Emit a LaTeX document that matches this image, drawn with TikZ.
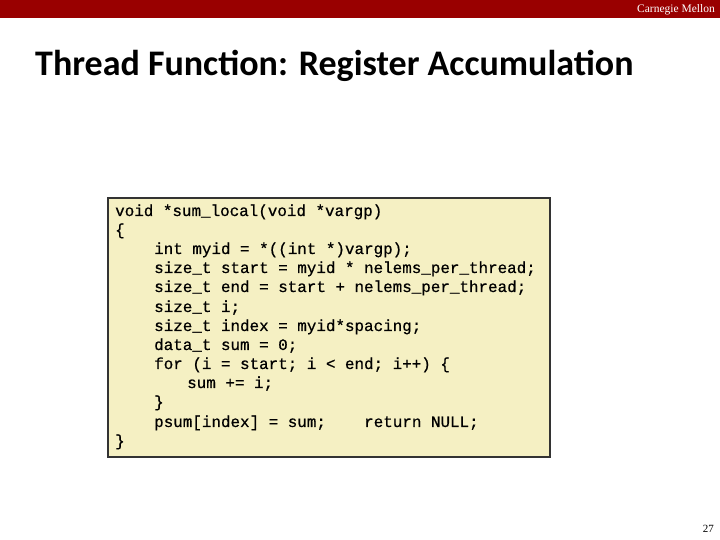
\documentclass[tikz,border=0pt]{standalone}
\usepackage{fontspec}
\setmainfont{Liberation Serif}
\newfontfamily\titlefont{Carlito}
\newfontfamily\codefont[FakeBold=0.6]{Liberation Mono}
\definecolor{cmured}{HTML}{990000}
\definecolor{codebg}{HTML}{F5F0C3}
\begin{document}
\begin{tikzpicture}[x=1pt,y=1pt,
  codeline/.style={anchor=base west,inner sep=0pt,font=\codefont\fontsize{15.9}{19}\selectfont}]
\useasboundingbox (0,0) rectangle (720,540);
\fill[white] (0,0) rectangle (720,540);
\fill[cmured] (0,522) rectangle (720,540);
\node[anchor=base east,inner sep=0pt,text=white,font=\fontsize{11.5}{12}\selectfont] (cmu) at (715,527) {Carnegie Mellon};
\node[anchor=base west,inner sep=0pt,font=\titlefont\bfseries\fontsize{36}{40}\selectfont] (title) at (35,464) {Thread Function: Register Accumulation};
\draw[fill=codebg,draw=black!80,line width=1.5pt] (108,83) rectangle (550,342);
\foreach \t/\x/\py [count=\i] in {
 {void *sum\_local(void *vargp)}/115/216,
 {\{}/115/235,
 {int myid = *((int *)vargp);}/154/254,
 {size\_t start = myid * nelems\_per\_thread;}/154/273,
 {size\_t end = start + nelems\_per\_thread;}/154/292,
 {size\_t i;}/154/312,
 {size\_t index = myid*spacing;}/154/331,
 {data\_t sum = 0;}/154/350,
 {for (i = start; i < end; i++) \{}/154/369,
 {sum += i;}/187/388,
 {\}}/154/407,
 {psum[index] = sum;}/154/427,
 {return NULL;}/364/427,
 {\}}/115/446}
 \node[codeline] (l\i) at (\x,540-\py) {\t};
\node[anchor=base east,inner sep=0pt,font=\fontsize{11}{12}\selectfont] (pg) at (714,7) {27};
\end{tikzpicture}
\end{document}
